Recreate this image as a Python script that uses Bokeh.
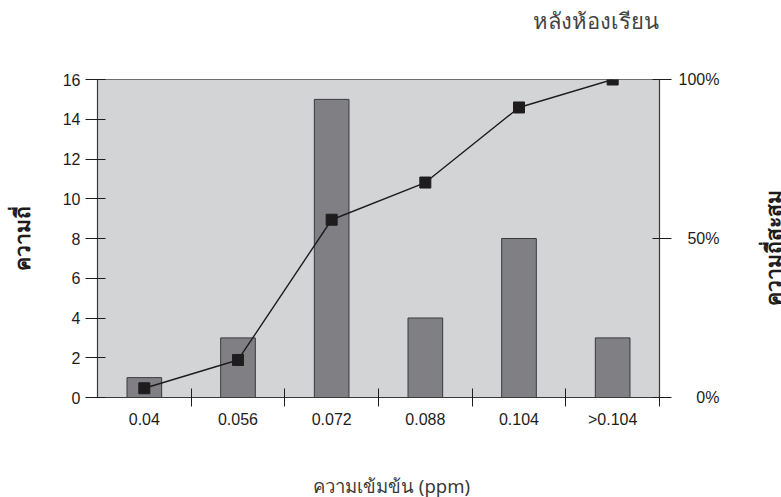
import math
from bokeh.plotting import figure
from bokeh.layouts import row, column
from bokeh.core.properties import value
from bokeh.models import Range1d, LinearAxis, FixedTicker, ColumnDataSource
from bokeh.embed import file_html
from bokeh.resources import INLINE

# Concentration classes and their frequencies
categories = ["0.04", "0.056", "0.072", "0.088", "0.104", ">0.104"]
frequency = [1, 3, 15, 4, 8, 3]
cumulative_pct = [2.9, 11.8, 55.9, 67.6, 91.2, 100.0]
left_ticks = [0, 2, 4, 6, 8, 10, 12, 14, 16]
right_ticks = [0, 50, 100]
right_tick_labels = ["0%", "50%", "100%"]

DARK = "#1e1c1d"
AXIS = "#3a3a3c"
CAPTION = "#3a3a3a"
TICK_FONT = "Liberation Sans"
THAI_FONT = "Noto Sans"
FIG_SPACE = "\u2007"

# Page geometry: a chart column with caption strips above and below,
# and a narrow strip on the right for the cumulative-axis caption
TOTAL_H = 497
MAIN_W, SIDE_W = 755, 26
TOP_H, BOTTOM_H = 40, 40
MAIN_H = TOTAL_H - TOP_H - BOTTOM_H
FRAME_L, FRAME_R, FRAME_T, FRAME_B = 97, 659, 79, 397


def strip(w, h, x0=0, x1=None):
    """A blank figure whose data units are page pixels, used for captions."""
    f = figure(width=w, height=h, output_backend="svg", toolbar_location=None,
               x_range=Range1d(x0, w if x1 is None else x1), y_range=Range1d(0, h),
               min_border=0, x_axis_location=None, y_axis_location=None)
    f.outline_line_color = None
    f.background_fill_color = "white"
    f.border_fill_color = "white"
    f.xgrid.visible = False
    f.ygrid.visible = False
    return f


centers = [i + 0.5 for i in range(len(categories))]
bar_src = ColumnDataSource(dict(x=centers, top=frequency))
cum_src = ColumnDataSource(dict(x=centers, y=cumulative_pct))

p = figure(width=MAIN_W, height=MAIN_H, output_backend="svg", toolbar_location=None,
           x_range=Range1d(0, len(categories)), y_range=Range1d(0, 16),
           min_border_left=FRAME_L, min_border_right=MAIN_W - FRAME_R,
           min_border_top=FRAME_T - TOP_H, min_border_bottom=TOTAL_H - BOTTOM_H - FRAME_B,
           x_axis_location=None, y_axis_location=None)
p.extra_y_ranges = {"pct": Range1d(0, 100)}

p.background_fill_color = "#d3d4d6"
p.border_fill_color = "white"
p.outline_line_color = "#6e6e70"
p.outline_line_width = 1
p.xgrid.visible = False
p.ygrid.visible = False

# Frequency bars
p.vbar(x="x", top="top", width=0.37, bottom=0, source=bar_src,
       fill_color="#808084", line_color=AXIS, line_width=1)

# Cumulative frequency line on the right-hand scale
p.line(x="x", y="y", source=cum_src, y_range_name="pct",
       line_color=DARK, line_width=1.4)
p.scatter(x="x", y="y", source=cum_src, y_range_name="pct", marker="square",
          size=11, fill_color=DARK, line_color=DARK)

# Bottom axis: labels at class centres, tick marks at class boundaries
xaxis = LinearAxis(
    ticker=FixedTicker(ticks=centers,
                       minor_ticks=[float(i) for i in range(1, len(categories) + 1)]),
    major_label_overrides={c: lab for c, lab in zip(centers, categories)},
    major_tick_line_color=None, major_tick_in=0, major_tick_out=0,
    minor_tick_line_color=DARK, minor_tick_in=9, minor_tick_out=9,
    axis_line_color=AXIS, axis_line_width=1.2,
    major_label_standoff=4,
    major_label_text_font=TICK_FONT, major_label_text_font_size="16px",
    major_label_text_color=DARK)
p.add_layout(xaxis, "below")

# Left axis: frequency
yaxis = LinearAxis(
    ticker=FixedTicker(ticks=left_ticks, minor_ticks=[]),
    major_tick_in=8, major_tick_out=12, major_tick_line_color=DARK,
    axis_line_color=AXIS, axis_line_width=1.2,
    major_label_standoff=5,
    major_label_text_font=TICK_FONT, major_label_text_font_size="16px",
    major_label_text_color=DARK,
    axis_label="ความถี่", axis_label_standoff=24,
    axis_label_text_font=THAI_FONT, axis_label_text_font_size="21px",
    axis_label_text_font_style="bold", axis_label_text_color=DARK)
p.add_layout(yaxis, "left")

# Right axis: cumulative percentage (labels padded so they line up on the right)
width = max(len(s) for s in right_tick_labels)
raxis = LinearAxis(
    y_range_name="pct",
    ticker=FixedTicker(ticks=right_ticks, minor_ticks=[]),
    major_label_overrides={t: FIG_SPACE * (width - len(lab)) + lab
                           for t, lab in zip(right_ticks, right_tick_labels)},
    major_tick_in=7, major_tick_out=12, major_tick_line_color=DARK,
    axis_line_color=AXIS, axis_line_width=1.2,
    major_label_standoff=7,
    major_label_text_font=TICK_FONT, major_label_text_font_size="16px",
    major_label_text_color=DARK)
p.add_layout(raxis, "right")

# The strips stacked with the chart share its frame edges, so their x ranges
# span the frame's pixel columns
top = strip(MAIN_W, TOP_H, FRAME_L, FRAME_R)
top.text(x=[FRAME_R - 1], y=[TOP_H - 19], text=["หลังห้องเรียน"],
         text_align="right", text_baseline="middle",
         text_font=value(THAI_FONT), text_font_size="22px",
         text_font_style="normal", text_color="#444444")

bottom = strip(MAIN_W, BOTTOM_H, FRAME_L, FRAME_R)
bottom.text(x=[391], y=[TOTAL_H - 485], text=["ความเข้มข้น (ppm)"],
            text_align="center", text_baseline="middle",
            text_font=value(THAI_FONT), text_font_size="18.5px", text_color=CAPTION)

# Cumulative-axis caption, reading upwards
side = strip(SIDE_W, TOTAL_H)
side.text(x=[17], y=[TOTAL_H - 247], text=["ความถี่สะสม"], angle=math.pi / 2,
          text_align="center", text_baseline="middle",
          text_font=value(THAI_FONT), text_font_size="21px",
          text_font_style="bold", text_color=DARK)

layout = row(column(top, p, bottom, spacing=0), side, spacing=0)
open("out.html", "w").write(file_html(layout, INLINE))
